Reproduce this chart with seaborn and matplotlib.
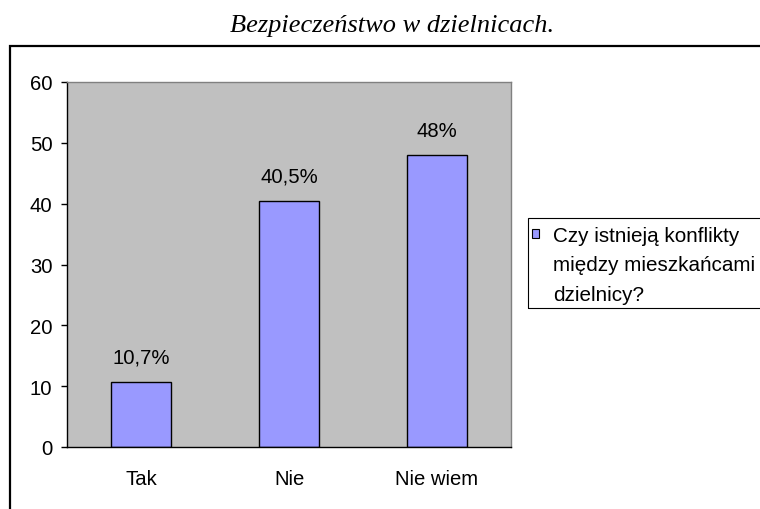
import numpy as np
import pandas as pd
import matplotlib.pyplot as plt
import seaborn as sns
from matplotlib.patches import Rectangle, Patch

categories = ["Tak", "Nie", "Nie wiem"]
values = [10.7, 40.5, 48]
labels = ["10,7%", "40,5%", "48%"]
series_lines = ["Czy istnieją konflikty", "między mieszkańcami", "dzielnicy?"]
title = "Bezpieczeństwo w dzielnicach."

df = pd.DataFrame({"Odpowiedź": categories, "Procent": values})

sns.set_style("white")
plt.rcParams["font.family"] = ["Liberation Sans", "DejaVu Sans"]
plt.rcParams["text.color"] = "black"

FS = 14.6

fig = plt.figure(figsize=(7.6, 5.1), dpi=100)
ax = fig.add_axes([67 / 760, 62 / 510, 444 / 760, 365 / 510])

sns.barplot(data=df, x="Odpowiedź", y="Procent", color="#9999FF",
            edgecolor="black", linewidth=1, width=0.4, saturation=1, ax=ax)

ax.set_facecolor("#C0C0C0")
for s in ax.spines.values():
    s.set_color("#808080")
    s.set_linewidth(1)
ax.spines["left"].set_color("black")
ax.spines["bottom"].set_color("black")

ax.set_ylim(0, 60)
ax.set_yticks(range(0, 61, 10))
ax.set_xlim(-0.5, 2.5)
ax.set_xticks([-0.5, 0.5, 1.5, 2.5], minor=True)
ax.tick_params(axis="x", which="major", length=0, pad=15.5, labelsize=FS, labelcolor="black")
ax.tick_params(axis="x", which="minor", length=4.5, width=1, color="black", direction="out")
ax.tick_params(axis="y", length=4.5, width=1, color="black", direction="out",
               labelsize=FS, labelcolor="black", left=True, pad=6)
ax.set_xlabel("")
ax.set_ylabel("")

for i, v in enumerate(values):
    ax.annotate(labels[i], (i, v), xytext=(0, 11), textcoords="offset points",
                ha="center", va="bottom", fontsize=FS, color="black")

# legend: marker beside the first line only
handles = [Patch(facecolor="#9999FF", edgecolor="black", linewidth=0.8),
           Patch(facecolor="none", edgecolor="none"),
           Patch(facecolor="none", edgecolor="none")]
leg = fig.legend(handles, series_lines, loc="upper left",
                 bbox_to_anchor=(532 / 760, (510 - 227) / 510),
                 fontsize=14.9, frameon=False, handlelength=0.34,
                 handleheight=0.34, handletextpad=0.66, borderpad=0,
                 borderaxespad=0, labelspacing=0.5)
for t in leg.get_texts():
    t.set_color("black")

fig.patches.append(Rectangle((528 / 760, (510 - 309) / 510), 0.5, 90 / 510,
                             transform=fig.transFigure, fill=False,
                             edgecolor="black", linewidth=0.8))

fig.patches.append(Rectangle((10 / 760, -0.1), 1.2, (510 - 47) / 510 + 0.1,
                             transform=fig.transFigure, fill=False,
                             edgecolor="black", linewidth=1.6))

fig.text(392 / 760, (510 - 26) / 510, title, ha="center", va="center",
         fontsize=19, style="italic", family=["Liberation Serif", "DejaVu Serif"])

fig.savefig("out.png", dpi=100)
